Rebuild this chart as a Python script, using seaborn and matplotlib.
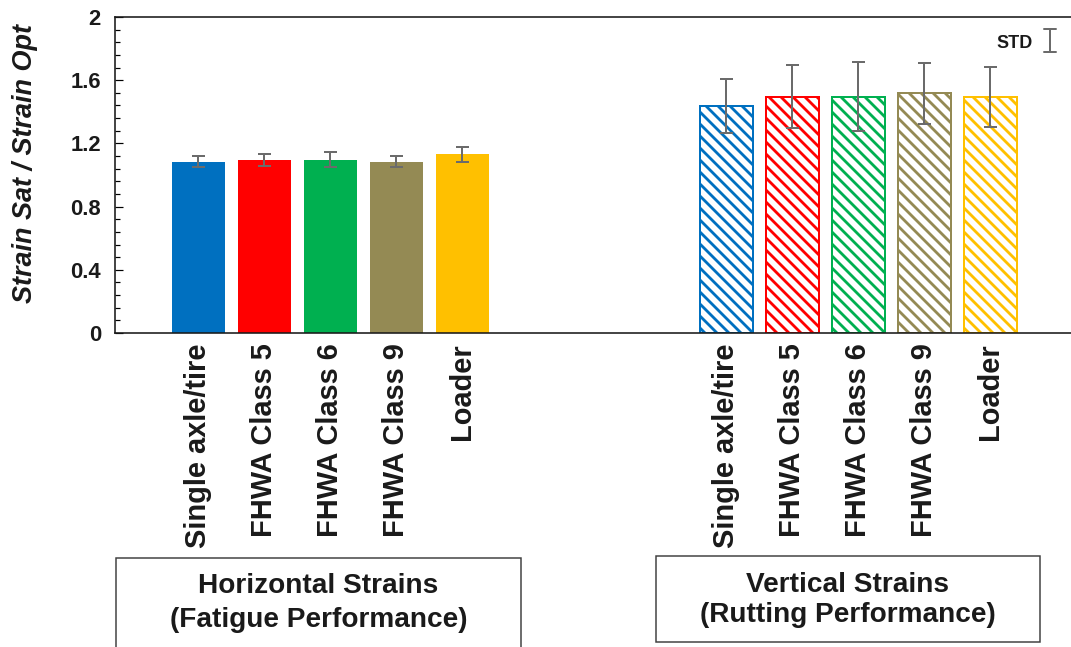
import numpy as np
import pandas as pd
import matplotlib
matplotlib.use("Agg")
import matplotlib.pyplot as plt
import seaborn as sns
from matplotlib.patches import Rectangle
from matplotlib.lines import Line2D
from matplotlib.ticker import MultipleLocator

# ---------------- data ----------------
vehicles = ["Single axle/tire", "FHWA Class 5", "FHWA Class 6", "FHWA Class 9", "Loader"]
colors = ["#0070C0", "#FF0000", "#00B050", "#948A54", "#FFC000"]
horizontal_mean = [1.085, 1.097, 1.098, 1.083, 1.130]
horizontal_std = [0.033, 0.038, 0.050, 0.035, 0.047]
vertical_mean = [1.437, 1.496, 1.496, 1.517, 1.492]
vertical_std = [0.170, 0.200, 0.217, 0.192, 0.190]
group_labels = ["Horizontal Strains\n(Fatigue Performance)",
                "Vertical Strains\n(Rutting Performance)"]
yticks = [0, 0.4, 0.8, 1.2, 1.6, 2]
ylabel = "Strain Sat / Strain Opt"
std_label = "STD"

# ---------------- style ----------------
sns.set_style("white")
plt.rcParams["font.family"] = ["Liberation Sans", "DejaVu Sans"]
plt.rcParams["hatch.linewidth"] = 2.8

W, H = 1071, 647
fig = plt.figure(figsize=(W / 72, H / 72), dpi=72)
ax = fig.add_axes([115 / W, 1 - 333 / H, 1 - 115 / W, 316 / H])

h_pos = np.arange(len(vehicles))
v_pos = np.arange(len(vehicles)) + 8

df = pd.DataFrame({
    "pos": np.concatenate([h_pos, v_pos]),
    "value": horizontal_mean + vertical_mean,
    "vehicle": vehicles * 2,
})

sns.barplot(data=df, x="pos", y="value", hue="vehicle", hue_order=vehicles,
            palette=colors, native_scale=True, saturation=1, width=0.8,
            dodge=False, legend=False, errorbar=None, linewidth=0, ax=ax)

for p in ax.patches:
    cx = p.get_x() + p.get_width() / 2
    if cx > 6:
        c = p.get_facecolor()
        p.set_facecolor("white")
        p.set_edgecolor(c)
        p.set_hatch("\\\\")
        p.set_linewidth(2)

err_kw = dict(fmt="none", ecolor="#6b6b6b", elinewidth=2, capsize=6.5, capthick=2, zorder=5)
ax.errorbar(h_pos, horizontal_mean, yerr=horizontal_std, **err_kw)
ax.errorbar(v_pos, vertical_mean, yerr=vertical_std, **err_kw)

ax.set_xlim(-1.265, 13.22)
ax.set_ylim(0, 2)
ax.set_yticks(yticks)
ax.set_yticklabels([f"{t:g}" for t in yticks], fontsize=22, fontweight="bold", color="#1a1a1a")
ax.yaxis.set_minor_locator(MultipleLocator(0.08))
ax.tick_params(axis="y", which="major", direction="in", length=8, width=1.2, color="black", pad=14, left=True)
ax.tick_params(axis="y", which="minor", direction="in", length=5, width=1.2, color="black", left=True)

ax.set_xticks(np.concatenate([h_pos, v_pos]))
ax.set_xticklabels(vehicles * 2, rotation=90, fontsize=29, fontweight="bold", color="#1a1a1a")
ax.tick_params(axis="x", length=0, pad=10)
ax.set_xlabel("")
ax.set_ylabel("")

for side in ["top", "left", "bottom"]:
    ax.spines[side].set_visible(True)
    ax.spines[side].set_color("#1a1a1a")
    ax.spines[side].set_linewidth(1.6)
ax.spines["right"].set_visible(False)

fig.text(25 / W, 1 - 164 / H, ylabel, rotation=90, ha="center", va="center",
         fontsize=27, fontweight="bold", fontstyle="italic", color="#1a1a1a")

# group boxes
boxes = [(116, 521, 558, 660, 318.5, 603, 1.4), (656, 1040, 556, 642, 848, 600, 1.24)]
for (x0, x1, y0, y1, tx, ty, ls), lab in zip(boxes, group_labels):
    fig.add_artist(Rectangle((x0 / W, 1 - y1 / H), (x1 - x0) / W, (y1 - y0) / H,
                             transform=fig.transFigure, facecolor="none",
                             edgecolor="#404040", linewidth=1.5))
    fig.text(tx / W, 1 - ty / H, lab, ha="center", va="center", fontsize=28,
             fontweight="bold", color="#1a1a1a", linespacing=ls, multialignment="center")

# STD legend
fig.text(1015 / W, 1 - 43 / H, std_label, ha="center", va="center", fontsize=18,
         fontweight="bold", color="#1a1a1a")
gx, gtop, gbot, cap = 1050, 29, 52, 6
for xs, ys in [([gx, gx], [gtop, gbot]), ([gx - cap, gx + cap], [gtop, gtop]),
               ([gx - cap, gx + cap], [gbot, gbot])]:
    fig.add_artist(Line2D([x / W for x in xs], [1 - y / H for y in ys],
                          transform=fig.transFigure, color="#6b6b6b", linewidth=2))

fig.savefig("out.png", dpi=72)
